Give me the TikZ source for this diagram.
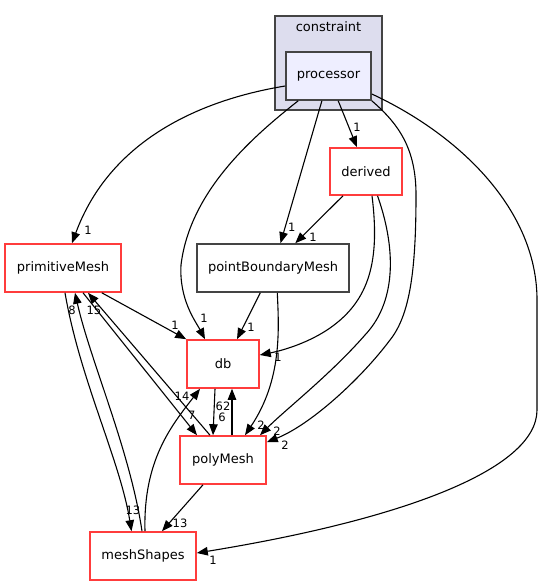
\documentclass[tikz,border=0pt]{standalone}
\usepackage{fontspec}
\setmainfont{DejaVu Sans}
\usetikzlibrary{arrows.meta}
\definecolor{redb}{RGB}{255,60,60}
\definecolor{greyb}{RGB}{68,68,68}
\definecolor{clfill}{RGB}{221,221,238}
\definecolor{procfill}{RGB}{238,238,255}
\tikzset{
  box/.style={draw=redb, line width=1.6pt, fill=white, inner sep=0pt, font=\fontsize{13}{15}\selectfont},
  gbox/.style={box, draw=greyb},
  edge/.style={line width=1.1pt, -{Triangle[length=11pt,width=8.5pt]}},
  lbl/.style={inner sep=0pt, font=\fontsize{11.5}{13}\selectfont},
}
\begin{document}
\begin{tikzpicture}[x=1pt,y=-1pt]
\useasboundingbox (0,0) rectangle (543,585);
% cluster
\node[draw=greyb, line width=1.6pt, fill=clfill, minimum width=107pt, minimum height=94pt, inner sep=0pt] (cluster) at (328.5,63) {};
\node[font=\fontsize{13}{15}\selectfont, inner sep=0pt] (cltitle) at (328.5,27) {constraint};
% nodes
\node[gbox, fill=procfill, minimum width=85pt, minimum height=48pt] (processor) at (328.5,76) {processor};
\node[box, minimum width=72pt, minimum height=47pt] (derived) at (366,171.5) {derived};
\node[gbox, minimum width=152pt, minimum height=48pt] (pbm) at (273,268) {pointBoundaryMesh};
\node[box, minimum width=116pt, minimum height=48pt] (prim) at (63,268) {primitiveMesh};
\node[box, minimum width=72pt, minimum height=48pt] (db) at (223,364) {db};
\node[box, minimum width=86pt, minimum height=48pt] (poly) at (223,460) {polyMesh};
\node[box, minimum width=106pt, minimum height=48pt] (shapes) at (143,556) {meshShapes};

% processor edges
\draw[edge] ([yshift=-10pt]processor.west) .. controls (200,100) and (110,140) .. ([xshift=9pt]prim.north);
\node[lbl] (l1) at (88,230) {1};
\draw[edge] ([xshift=-30.3pt]processor.south) .. controls (255,135) and (190,190) .. (181,265) .. controls (179,300) and (196,322) .. ([xshift=-18pt]db.north);
\node[lbl] (l2) at (204,318) {1};
\draw[edge] ([xshift=-6.6pt]processor.south) -- ([xshift=7.5pt]pbm.north);
\node[lbl] (l3) at (291.7,227) {1};
\draw[edge] ([xshift=9.7pt]processor.south) -- ([xshift=-9pt]derived.north);
\node[lbl] (l4) at (357,127) {1};
\draw[edge] (processor.south east) .. controls (400,125) and (416,150) .. (416,195) .. controls (416,270) and (410,315) .. (390,340) .. controls (360,380) and (310,425) .. ([yshift=-7pt]poly.north east);
\node[lbl] (l5) at (285,445) {2};
\draw[edge] ([yshift=-18pt]processor.east) .. controls (460,135) and (537,210) .. (537,300) -- (537,410) .. controls (537,470) and (400,520) .. ([yshift=3pt]shapes.east);
\node[lbl] (l6) at (213,560) {1};

% derived edges
\draw[edge] ([xshift=-23pt]derived.south) -- ([xshift=22.3pt]pbm.north);
\node[lbl] (l7) at (313,237) {1};
\draw[edge] ([xshift=6pt]derived.south) .. controls (380,260) and (370,300) .. (330,328) .. controls (310,342) and (285,350) .. ([yshift=9pt]db.east);
\node[lbl] (l8) at (278,357) {1};
\draw[edge] ([xshift=11.5pt]derived.south) .. controls (395,245) and (398,300) .. (365,335) .. controls (330,375) and (285,410) .. ([xshift=37pt]poly.north);
\node[lbl] (l9) at (277,431) {2};

% pointBoundaryMesh edges
\draw[edge] ([xshift=-12.7pt]pbm.south) -- ([xshift=14pt]db.north);
\node[lbl] (l10) at (251,327) {1};
\draw[edge] ([xshift=4.3pt]pbm.south) .. controls (279,330) and (282,380) .. ([xshift=22pt]poly.north);
\node[lbl] (l11) at (261,425) {2};

% primitiveMesh edges
\draw[edge] ([xshift=38.8pt]prim.south) -- (db.north west);
\node[lbl] (l12) at (175,325) {1};
\draw[edge] ([xshift=20pt]prim.south) -- ([xshift=-26pt]poly.north);
\node[lbl] (l13) at (191.7,415) {7};
\draw[edge] ([xshift=2pt]prim.south) .. controls (80,380) and (120,460) .. ([xshift=-11.5pt]shapes.north);
\node[lbl] (l14) at (133,510) {13};

% polyMesh edges
\draw[edge] ([xshift=-13pt]poly.north) -- ([xshift=25pt]prim.south);
\node[lbl] (l15) at (94,310) {15};
\draw[edge] ([xshift=9pt]poly.north) -- ([xshift=9pt]db.south);
\node[lbl] (l16) at (223,406) {62};
\draw[edge] ([xshift=-20pt]poly.south) -- ([xshift=19pt]shapes.north);
\node[lbl] (l17) at (180,523) {13};

% db edges
\draw[edge] ([xshift=-8pt]db.south) -- ([xshift=-10pt]poly.north);
\node[lbl] (l18) at (222,417) {6};

% meshShapes edges
\draw[edge] ([xshift=-1pt]shapes.north) .. controls (130,450) and (90,360) .. ([xshift=12pt]prim.south);
\node[lbl] (l19) at (72,310) {8};
\draw[edge] ([xshift=2pt]shapes.north) .. controls (143,460) and (172,425) .. ([xshift=-23pt]db.south);
\node[lbl] (l20) at (182,396) {14};
\end{tikzpicture}
\end{document}
